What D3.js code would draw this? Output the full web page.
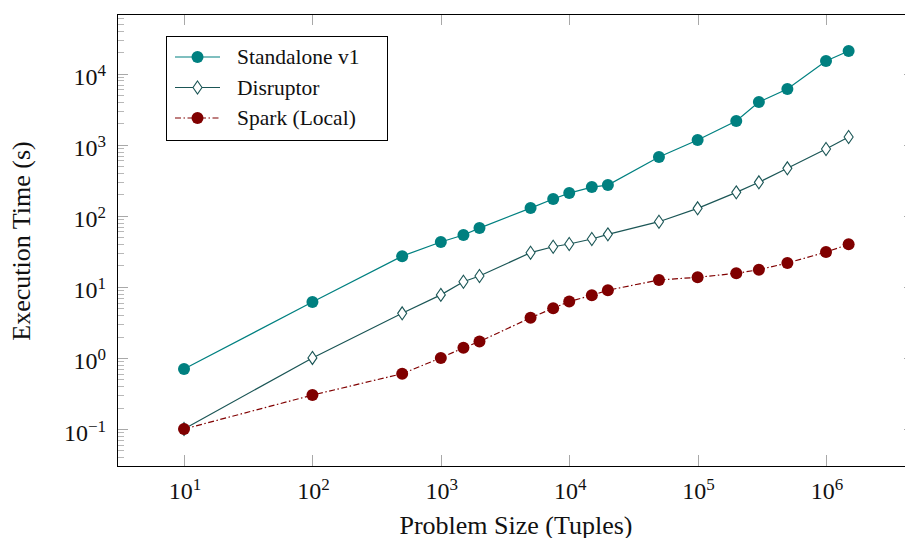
<!DOCTYPE html>
<html>
<head>
<meta charset="utf-8">
<script src="https://cdn.jsdelivr.net/npm/d3@7"></script>
<style>
  body { margin: 0; background: #fff; }
  svg { display: block; font-family: "Liberation Serif", "DejaVu Serif", serif; }
</style>
</head>
<body>
<svg id="chart" width="905" height="538"></svg>
<script>
// problem sizes (tuples)
var sizes = [10, 100, 500, 1000, 1500, 2000, 5000, 7500, 10000, 15000, 20000,
             50000, 100000, 200000, 300000, 500000, 1000000, 1500000];

// execution times (s)
var standalone = [0.70, 6.1, 27, 42.7, 53.6, 67, 128, 172, 208, 253, 270,
                  670, 1160, 2150, 3970, 6050, 15000, 20700];
var disruptor = [0.1, 1.0, 4.24, 7.7, 11.8, 14.2, 30.2, 36.6, 40, 47, 54.7,
                 82.4, 127, 213, 295, 464, 867, 1280];
var spark = [0.1, 0.30, 0.60, 1.0, 1.39, 1.70, 3.67, 5.0, 6.2, 7.6, 8.95,
             12.5, 13.6, 15.5, 17.4, 21.6, 30.8, 39.6];

var xTicks = [1e1, 1e2, 1e3, 1e4, 1e5, 1e6];
var yTicks = [1e-1, 1e0, 1e1, 1e2, 1e3, 1e4];

var series = [
    { name: "Standalone v1", values: standalone, color: "#008080", marker: "circle", dash: null },
    { name: "Disruptor", values: disruptor, color: "#1b5656", marker: "diamond", dash: null },
    { name: "Spark (Local)", values: spark, color: "#800000", marker: "circle", dash: "6,2.5,1.5,2.5" }
];

var svg = d3.select("#chart");
var pLeft = 117, pRight = 915, pTop = 14, pBottom = 466;

var xScale = d3.scaleLog().domain([Math.pow(10, 0.478), Math.pow(10, 6.693)]).range([pLeft, pRight]);
var yScale = d3.scaleLog().domain([Math.pow(10, -1.520), Math.pow(10, 4.837)]).range([pBottom, pTop]);

var g = svg.append("g");

// minor y ticks (2..9 per decade)
var minor = [];
for (var e = -2; e <= 4; e++) {
    for (var m = 2; m <= 9; m++) {
        var v = m * Math.pow(10, e);
        if (v > yScale.domain()[0] && v < yScale.domain()[1]) minor.push(v);
    }
}
function hTicks(data, x0, len, color) {
    g.selectAll(null).data(data).enter().append("line")
        .attr("x1", x0).attr("x2", x0 + len)
        .attr("y1", function (d) { return Math.round(yScale(d)) + 0.5; })
        .attr("y2", function (d) { return Math.round(yScale(d)) + 0.5; })
        .attr("stroke", color).attr("stroke-width", 1);
}
hTicks(minor, pLeft, 7, "#b8b8b8");
hTicks(minor, pRight, -7, "#b8b8b8");
hTicks(yTicks, pLeft, 11, "#a8a8a8");
hTicks(yTicks, pRight, -11, "#a8a8a8");

// major x ticks, bottom and top
function vTicks(y0, len) {
    g.selectAll(null).data(xTicks).enter().append("line")
        .attr("x1", function (d) { return Math.round(xScale(d)) + 0.5; })
        .attr("x2", function (d) { return Math.round(xScale(d)) + 0.5; })
        .attr("y1", y0).attr("y2", y0 + len)
        .attr("stroke", "#a8a8a8").attr("stroke-width", 1);
}
vTicks(pBottom, -11);
vTicks(pTop, 11);

// frame
g.append("rect")
    .attr("x", pLeft + 0.5).attr("y", pTop + 0.5)
    .attr("width", pRight - pLeft).attr("height", pBottom - pTop)
    .attr("fill", "none").attr("stroke", "#000").attr("stroke-width", 1);

// tick labels
function expLabel(sel, d) {
    var p = Math.round(Math.log10(d));
    sel.append("tspan").text("10");
    sel.append("tspan").attr("dy", -9).attr("font-size", 17).text(p < 0 ? "\u2212" + (-p) : p);
}

g.selectAll(".xlab").data(xTicks).enter().append("text")
    .attr("x", function (d) { return xScale(d) + 1; })
    .attr("y", 499)
    .attr("text-anchor", "middle")
    .attr("font-size", 24)
    .attr("fill", "#111")
    .each(function (d) { expLabel(d3.select(this), d); });

g.selectAll(".ylab").data(yTicks).enter().append("text")
    .attr("x", 106)
    .attr("y", function (d) { return yScale(d) + 11.5; })
    .attr("text-anchor", "end")
    .attr("font-size", 24)
    .attr("fill", "#111")
    .each(function (d) { expLabel(d3.select(this), d); });

// axis titles
svg.append("text")
    .attr("x", 516).attr("y", 534)
    .attr("text-anchor", "middle")
    .attr("font-size", 26)
    .attr("fill", "#111")
    .text("Problem Size (Tuples)");

svg.append("text")
    .attr("transform", "translate(30,241) rotate(-90)")
    .attr("text-anchor", "middle")
    .attr("font-size", 26)
    .attr("fill", "#111")
    .text("Execution Time (s)");

// lines and markers
var line = d3.line()
    .x(function (d) { return xScale(d[0]); })
    .y(function (d) { return yScale(d[1]); });

function drawMarker(sel, s, x, y) {
    if (s.marker === "circle") {
        sel.append("circle").attr("cx", x).attr("cy", y).attr("r", 6)
            .attr("fill", s.color);
    } else {
        sel.append("path")
            .attr("d", "M" + x + "," + (y - 6.5) + "L" + (x + 4.5) + "," + y +
                "L" + x + "," + (y + 6.5) + "L" + (x - 4.5) + "," + y + "Z")
            .attr("fill", "#fff").attr("stroke", s.color).attr("stroke-width", 1.1);
    }
}

series.forEach(function (s) {
    var pts = sizes.map(function (x, i) { return [x, s.values[i]]; });
    var sg = svg.append("g");
    sg.append("path")
        .datum(pts)
        .attr("d", line)
        .attr("fill", "none")
        .attr("stroke", s.color)
        .attr("stroke-width", 1.2)
        .attr("stroke-dasharray", s.dash);
    pts.forEach(function (p) {
        drawMarker(sg, s, xScale(p[0]), yScale(p[1]));
    });
});

// legend
var lg = svg.append("g");
lg.append("rect")
    .attr("x", 166.5).attr("y", 36.5)
    .attr("width", 221).attr("height", 104)
    .attr("fill", "#fff").attr("stroke", "#000").attr("stroke-width", 1);

series.forEach(function (s, i) {
    var cy = 57 + i * 30.5;
    lg.append("line")
        .attr("x1", 175).attr("x2", 220)
        .attr("y1", cy).attr("y2", cy)
        .attr("stroke", s.color).attr("stroke-width", 1.2)
        .attr("stroke-dasharray", s.dash);
    drawMarker(lg, s, 197.5, cy);
    lg.append("text")
        .attr("x", 237).attr("y", cy + 7)
        .attr("font-size", 21.5)
        .attr("fill", "#111")
        .text(s.name);
});
</script>
</body>
</html>
